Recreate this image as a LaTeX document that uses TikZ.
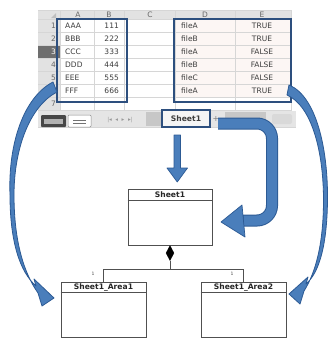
\documentclass[tikz,border=0pt]{standalone}
\usepackage{fontspec}
\setmainfont{DejaVu Sans}
\usetikzlibrary{shapes.geometric,calc}
\definecolor{afill}{HTML}{4A7EBB}
\definecolor{aline}{HTML}{2C5A94}
\definecolor{hbox}{HTML}{2D4F7E}
\definecolor{hdr}{HTML}{E2E2E2}
\definecolor{gridc}{HTML}{D6D6D6}
\definecolor{celltxt}{HTML}{3C3C3C}
\definecolor{pinkc}{HTML}{FCF6F4}
\definecolor{selhdr}{HTML}{6E6E6E}
\definecolor{umlc}{HTML}{505050}
\begin{document}
\begin{tikzpicture}[x=1pt,y=-1pt,
  cell/.style={font=\fontsize{7.5}{8}\selectfont, text=celltxt, inner sep=0pt},
  rownum/.style={font=\fontsize{7.5}{8}\selectfont, text=black!60, inner sep=0pt},
  colhdr/.style={font=\fontsize{7.5}{8}\selectfont, text=black!60, inner sep=0pt},
  hlbox/.style={draw=hbox, line width=1.6pt, inner sep=0pt},
  umlbox/.style={draw=umlc, line width=0.8pt, fill=white, inner sep=0pt},
  umltitle/.style={font=\bfseries\fontsize{7.6}{8}\selectfont, text=black!85, inner sep=0pt},
  umlline/.style={draw=umlc, line width=0.8pt},
  mult/.style={font=\fontsize{4.5}{5}\selectfont, text=black!70, inner sep=0pt},
  blockarrow/.style={fill=afill, draw=aline, line width=0.7pt, line join=round}
]
\useasboundingbox (0,0) rectangle (328,340);
\fill[white] (0,0) rectangle (328,340);

% ---------- spreadsheet ----------
\fill[hdr] (38,10) rectangle (292,19.5);
\fill[hdr] (38,19.5) rectangle (60,110.5);
\fill[white] (60,19.5) rectangle (291,110.5);
\fill[pinkc] (175,19.5) rectangle (291,97.5);
\fill[selhdr] (38,45.5) rectangle (60,58.5);
\foreach \k in {0,...,7}{
  \draw[gridc, line width=0.5pt] (38,19.5+13*\k) -- (291,19.5+13*\k);
}
\foreach \xx in {60,94,124,175,235,291}{
  \draw[gridc, line width=0.5pt] (\xx,10) -- (\xx,110.5);
}
\draw[gridc, line width=0.5pt] (38,10) -- (292,10);
\fill[black!25] (56,18) -- (56,13) -- (51,18) -- cycle;

\node[colhdr] (hA) at (78,15) {A};
\node[colhdr] (hB) at (109,15) {B};
\node[colhdr] (hC) at (150,15) {C};
\node[colhdr] (hD) at (205,15) {D};
\node[colhdr] (hE) at (262,15) {E};

\foreach \r in {1,2,4,5,7}{
  \node[rownum, anchor=east] (rn\r) at (56,13+13*\r) {\r};
}
\node[rownum, anchor=east, text=white] (rn3) at (56,52) {3};

\foreach \r/\ca/\cb/\cd/\ce in {1/AAA/111/fileA/TRUE,2/BBB/222/fileB/TRUE,3/CCC/333/fileA/FALSE,4/DDD/444/fileB/FALSE,5/EEE/555/fileC/FALSE,6/FFF/666/fileA/TRUE}{
  \node[cell, anchor=west] (ca\r) at (65,13+13*\r) {\ca};
  \node[cell, anchor=east] (cb\r) at (119,13+13*\r) {\cb};
  \node[cell, anchor=west] (cd\r) at (181,13+13*\r) {\cd};
  \node[cell] (ce\r) at (262,13+13*\r) {\ce};
}

\node[hlbox, minimum width=70pt, minimum height=83pt] (areaL) at (92,60.5) {};
\node[hlbox, minimum width=117pt, minimum height=83pt] (areaR) at (232.5,60.5) {};

% tab bar
\fill[black!10] (38,110.5) rectangle (296,127);
\draw[gridc, line width=0.5pt] (38,127) -- (296,127);
\fill[black!72, rounded corners=1pt] (41,115) rectangle (66,127);
\fill[black!30] (44,119) rectangle (63,124);
\filldraw[fill=white, draw=black!45, line width=0.5pt, rounded corners=1pt] (68,115) rectangle (91,127);
\draw[black!55, line width=0.8pt] (73,120) -- (86,120) (73,123) -- (86,123);
\node[font=\fontsize{5.5}{6}\selectfont, text=black!40, inner sep=0pt] (nav) at (120,120.5) {|◂\ \ ◂\ \ ▸\ \ ▸|};
\fill[black!22] (146,112) rectangle (162,126);
\fill[black!22] (225,112) rectangle (266,126);
\fill[black!15, rounded corners=2pt] (272,114) rectangle (292,124);
\node[draw=hbox, line width=1.6pt, fill=black!4, minimum width=48pt, minimum height=17pt, inner sep=0pt,
      font=\bfseries\fontsize{7.6}{8}\selectfont, text=celltxt] (tab) at (186,118.5) {Sheet1};
\node[font=\fontsize{8}{8}\selectfont, text=black!50, inner sep=0pt] (plus) at (216,119) {+};

% ---------- UML ----------
\node[umlbox, minimum width=84pt, minimum height=56pt] (s1) at (170,217) {};
\draw[umlline] ([yshift=-12pt]s1.north west) -- ([yshift=-12pt]s1.north east);
\node[umltitle] (s1t) at ([yshift=-6pt]s1.north) {Sheet1};

\node[umlbox, minimum width=85pt, minimum height=55pt] (a1) at (103.5,309.5) {};
\draw[umlline] ([yshift=-11pt]a1.north west) -- ([yshift=-11pt]a1.north east);
\node[umltitle] (a1t) at ([yshift=-5.5pt]a1.north) {Sheet1\_Area1};

\node[umlbox, minimum width=85pt, minimum height=55pt] (a2) at (243.5,309.5) {};
\draw[umlline] ([yshift=-11pt]a2.north west) -- ([yshift=-11pt]a2.north east);
\node[umltitle] (a2t) at ([yshift=-5.5pt]a2.north) {Sheet1\_Area2};

\node[diamond, fill=black, draw=black, line width=0.3pt, minimum width=8pt, minimum height=15pt, inner sep=0pt, anchor=north] (dia) at (s1.south) {};
\coordinate (j) at ([yshift=-9pt]dia.south);
\draw[umlline] (dia.south) -- (j);
\draw[umlline] (a1.north) |- (j) -| (a2.north);
\node[mult] (m1) at ([xshift=-10.5pt,yshift=8pt]a1.north) {1};
\node[mult] (m2) at ([xshift=-11.5pt,yshift=8pt]a2.north) {1};

% ---------- arrows ----------
% straight down arrow
\filldraw[blockarrow] (174,135) -- (180.5,135) -- (180.5,168) -- (187.5,168) -- (177.25,182) -- (167,168) -- (174,168) -- cycle;

% U-turn arrow from tab to Sheet1 class
\draw[aline, line width=12pt, rounded corners=15pt] (218,123.5) -- (272,123.5) -- (272,220.5) -- (243,220.5);
\draw[afill, line width=10pt, rounded corners=15pt] (218,123.5) -- (272,123.5) -- (272,220.5) -- (243.5,220.5);
\filldraw[blockarrow] (242,205) -- (221,222) -- (245,237) -- cycle;

% left curved arrow
\filldraw[blockarrow, line width=0.8pt]
  (53,82) .. controls (24,97) and (8,143) .. (10,195)
  .. controls (10,242) and (20,272) .. (36,286)
  -- (34,279) -- (54,298) -- (42,306) -- (38,293)
  .. controls (24,273) and (14,242) .. (14,195)
  .. controls (14,148) and (30,106) .. (57,92) -- cycle;

% right curved arrow
\filldraw[blockarrow, line width=0.8pt]
  (289,85) .. controls (316,96) and (328,148) .. (327.5,200)
  .. controls (327,243) and (320,272) .. (306,284)
  -- (308,277) -- (289,294) -- (300,304) -- (304,291)
  .. controls (316,272) and (323.5,243) .. (323.5,200)
  .. controls (323.5,152) and (312,106) .. (287,95) -- cycle;
\end{tikzpicture}
\end{document}
